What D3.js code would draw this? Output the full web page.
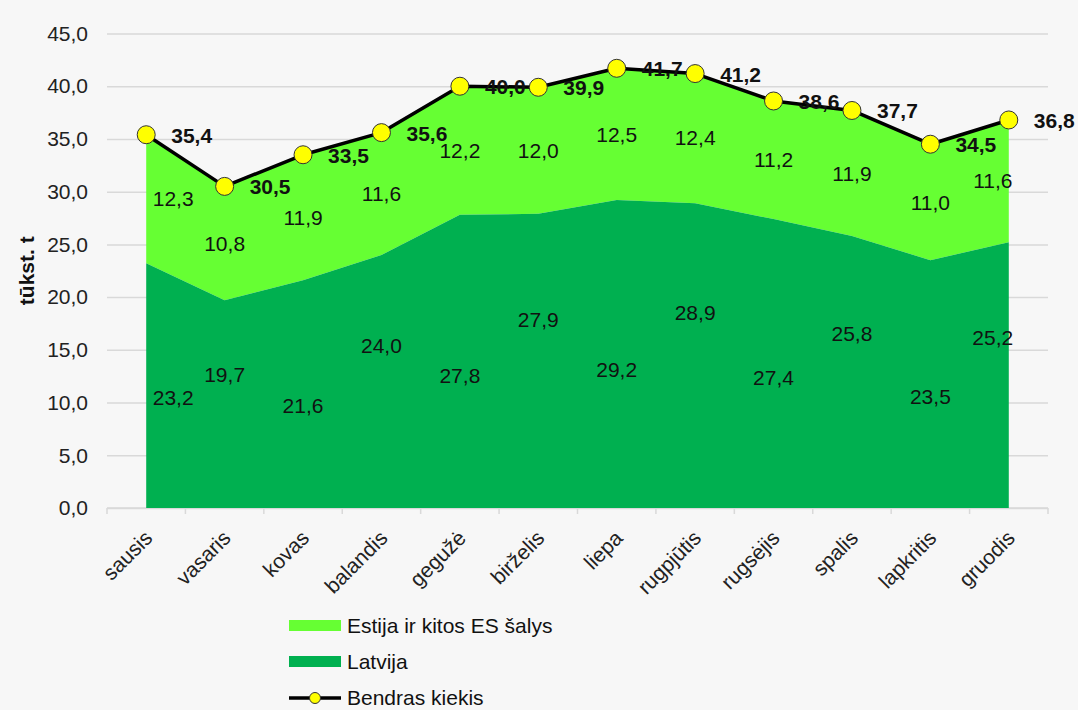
<!DOCTYPE html>
<html>
<head>
<meta charset="utf-8">
<script src="https://cdn.jsdelivr.net/npm/d3@7"></script>
<style>
  body { margin: 0; background: #f7f7f7; }
  svg { font-family: Arial, "Liberation Sans", sans-serif; }
  .grid line { stroke: #d9d9d9; stroke-width: 1.5; }
  .grid path { display: none; }
  .tick text { fill: #222; font-size: 21px; }
  .lbl { font-size: 21px; fill: #111; }
  .tot { font-size: 21px; font-weight: bold; fill: #111; }
</style>
</head>
<body>
<svg id="chart" width="1078" height="710"></svg>
<script>
const months = ['sausis', 'vasaris', 'kovas', 'balandis', 'gegužė', 'birželis',
  'liepa', 'rugpjūtis', 'rugsėjis', 'spalis', 'lapkritis', 'gruodis'];
const latvija = [23.2, 19.7, 21.6, 24.0, 27.8, 27.9, 29.2, 28.9, 27.4, 25.8, 23.5, 25.2];
const estija = [12.3, 10.8, 11.9, 11.6, 12.2, 12.0, 12.5, 12.4, 11.2, 11.9, 11.0, 11.6];
const bendras = [35.4, 30.5, 33.5, 35.6, 40.0, 39.9, 41.7, 41.2, 38.6, 37.7, 34.5, 36.8];
const yTicks = [0, 5, 10, 15, 20, 25, 30, 35, 40, 45];
const seriesNames = ['Estija ir kitos ES šalys', 'Latvija', 'Bendras kiekis'];

const lightGreen = '#66ff33';
const darkGreen = '#00b050';

const svg = d3.select('#chart');
const fmt = (v) => d3.format('.1f')(v).replace('.', ',');

const plotLeft = 107, plotRight = 1048, plotTop = 33.5, plotBottom = 508;

const xScale = d3.scaleBand()
  .domain(months)
  .range([plotLeft, plotRight]);

const yScale = d3.scaleLinear()
  .domain([0, 45])
  .range([plotBottom, plotTop]);

const cx = (m) => xScale(m) + xScale.bandwidth() / 2;

// grid
svg.append('g')
  .attr('class', 'grid')
  .attr('transform', `translate(${plotLeft}, 0)`)
  .call(d3.axisLeft(yScale).tickValues(yTicks).tickSize(-(plotRight - plotLeft)).tickFormat(''));

// y tick labels
svg.append('g')
  .attr('transform', `translate(${plotLeft}, 0)`)
  .call(d3.axisLeft(yScale).tickValues(yTicks).tickSize(0).tickPadding(19).tickFormat(fmt))
  .call(g => g.select('.domain').remove());

// x axis
const xAxis = svg.append('g')
  .attr('transform', `translate(0, ${plotBottom})`);
xAxis.append('line')
  .attr('x1', plotLeft).attr('x2', plotRight)
  .attr('stroke', '#d9d9d9').attr('stroke-width', 1.5);
xAxis.selectAll('.xt')
  .data(months.concat(['end']))
  .enter()
  .append('line')
  .attr('x1', (m, i) => i < months.length ? xScale(m) : plotRight)
  .attr('x2', (m, i) => i < months.length ? xScale(m) : plotRight)
  .attr('y1', 0).attr('y2', 6)
  .attr('stroke', '#d9d9d9').attr('stroke-width', 1.5);
xAxis.selectAll('.xl')
  .data(months)
  .enter()
  .append('text')
  .attr('class', 'lbl')
  .attr('text-anchor', 'end')
  .attr('transform', (m) => `translate(${cx(m) - 3}, 21) rotate(-45)`)
  .attr('dy', '0.7em')
  .style('fill', '#222')
  .text((m) => m);

// stacked areas
const rows = months.map((m, i) => ({ m, latvija: latvija[i], estija: estija[i] }));
const stack = d3.stack().keys(['latvija', 'estija'])(rows);
const area = d3.area()
  .x((d) => cx(d.data.m))
  .y0((d) => yScale(d[0]))
  .y1((d) => yScale(d[1]));

svg.append('path')
  .datum(stack[1])
  .attr('fill', lightGreen)
  .attr('d', area);
svg.append('path')
  .datum(stack[0])
  .attr('fill', darkGreen)
  .attr('d', area);

// area labels, kept inside the filled region at the edges
const firstX = cx(months[0]), lastX = cx(months[months.length - 1]);
const labelX = (m) => Math.min(Math.max(cx(m), firstX + 27), lastX - 16);

svg.selectAll('.lat')
  .data(rows)
  .enter()
  .append('text')
  .attr('class', 'lbl')
  .attr('text-anchor', 'middle')
  .attr('x', (d) => labelX(d.m))
  .attr('y', (d, i) => yScale(d.latvija * (i % 2 === 0 ? 0.45 : 0.64)))
  .attr('dy', '0.35em')
  .text((d) => fmt(d.latvija));

svg.selectAll('.est')
  .data(rows)
  .enter()
  .append('text')
  .attr('class', 'lbl')
  .attr('text-anchor', 'middle')
  .attr('x', (d) => labelX(d.m))
  .attr('y', (d) => yScale(d.latvija + d.estija * 0.5))
  .attr('dy', '0.35em')
  .text((d) => fmt(d.estija));

// total line
const line = d3.line()
  .x((d, i) => cx(months[i]))
  .y((d) => yScale(d));

svg.append('path')
  .datum(bendras)
  .attr('fill', 'none')
  .attr('stroke', '#000')
  .attr('stroke-width', 3.5)
  .attr('stroke-linejoin', 'round')
  .attr('d', line);

svg.selectAll('.pt')
  .data(bendras)
  .enter()
  .append('circle')
  .attr('cx', (d, i) => cx(months[i]))
  .attr('cy', (d) => yScale(d))
  .attr('r', 9)
  .attr('fill', '#ffff00')
  .attr('stroke', '#333')
  .attr('stroke-width', 1);

svg.selectAll('.tot')
  .data(bendras)
  .enter()
  .append('text')
  .attr('class', 'tot')
  .attr('x', (d, i) => cx(months[i]) + 25)
  .attr('y', (d) => yScale(d) + 8)
  .text((d) => fmt(d));

// y title
svg.append('text')
  .attr('transform', `translate(34, ${(plotTop + plotBottom) / 2}) rotate(-90)`)
  .attr('text-anchor', 'middle')
  .style('font-size', '21px')
  .style('font-weight', 'bold')
  .style('fill', '#111')
  .text('tūkst. t');

// legend
const legend = svg.append('g').attr('transform', 'translate(289, 626)');
const legendRows = legend.selectAll('g')
  .data(seriesNames)
  .enter()
  .append('g')
  .attr('transform', (d, i) => `translate(0, ${i * 36})`);

legendRows.filter((d, i) => i < 2)
  .append('rect')
  .attr('x', 0).attr('y', -6)
  .attr('width', 52).attr('height', 11)
  .attr('fill', (d, i) => i === 0 ? lightGreen : darkGreen);

const lastRow = legendRows.filter((d, i) => i === 2);
lastRow.append('line')
  .attr('x1', 0).attr('x2', 52)
  .attr('stroke', '#000').attr('stroke-width', 3.5);
lastRow.append('circle')
  .attr('cx', 26).attr('r', 5.5)
  .attr('fill', '#ffff00').attr('stroke', '#333').attr('stroke-width', 1);

legendRows.append('text')
  .attr('class', 'lbl')
  .attr('x', 58)
  .attr('dy', '0.35em')
  .style('fill', '#111')
  .text((d) => d);
</script>
</body>
</html>
